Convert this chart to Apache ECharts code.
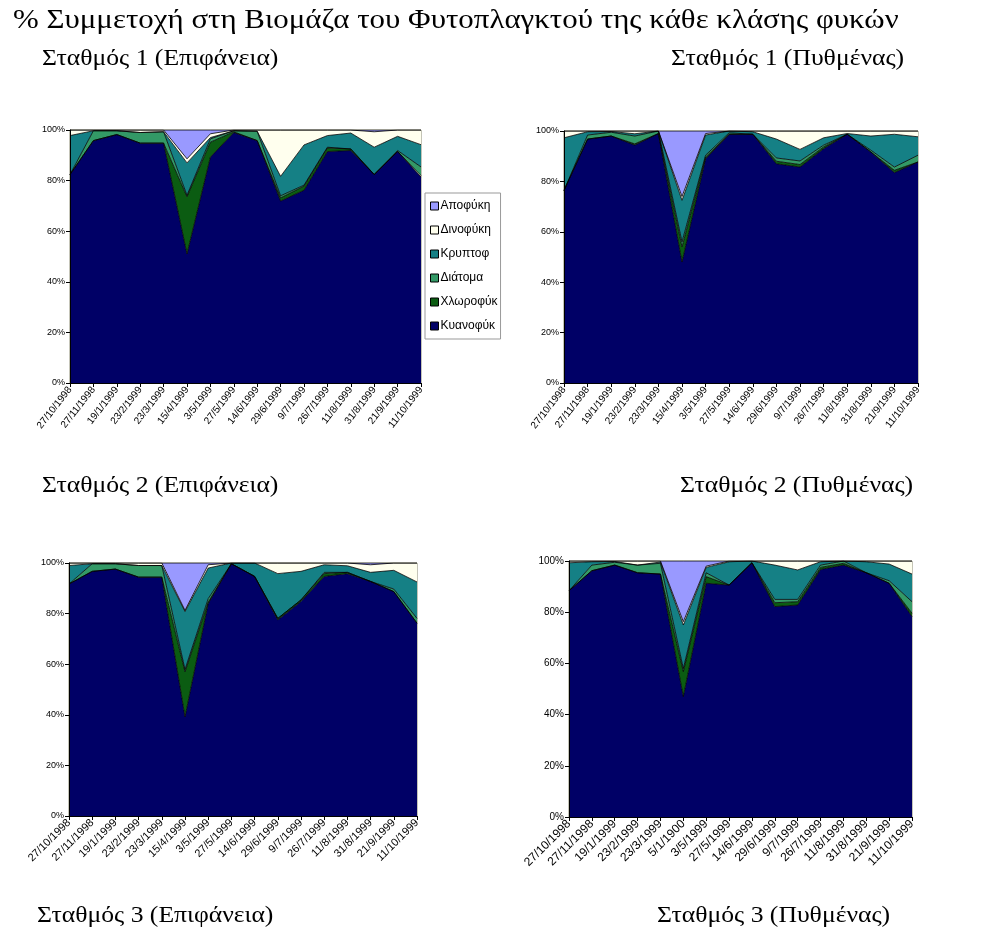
<!DOCTYPE html>
<html>
<head>
<meta charset="utf-8">
<script src="https://cdn.jsdelivr.net/npm/echarts@6/dist/echarts.min.js"></script>
<style>html,body{margin:0;padding:0;background:#fff}#c{width:987px;height:948px}</style>
</head>
<body>
<div id="c"></div>
<script>
// Categories (dates)
var dates = ['27/10/1998','27/11/1998','19/1/1999','23/2/1999','23/3/1999','15/4/1999','3/5/1999','27/5/1999','14/6/1999','29/6/1999','9/7/1999','26/7/1999','11/8/1999','31/8/1999','21/9/1999','11/10/1999'];
var datesBR = ['27/10/1998','27/11/1998','19/1/1999','23/2/1999','23/3/1999','5/1/1900','3/5/1999','27/5/1999','14/6/1999','29/6/1999','9/7/1999','26/7/1999','11/8/1999','31/8/1999','21/9/1999','11/10/1999'];

var seriesNames = ['Κυανοφύκ','Χλωροφύκ','Διάτομα','Κρυπτοφ','Δινοφύκη','Αποφύκη'];
var legendOrder = ['Αποφύκη','Δινοφύκη','Κρυπτοφ','Διάτομα','Χλωροφύκ','Κυανοφύκ'];

// Chart 1 (top-left)
var c1Kyan  = [82.4,95.8,98.2,94.8,94.8,51.0,89.3,99.0,95.8,71.9,76.2,91.5,91.9,82.4,91.5,81.4];
var c1Chlor = [0,0,0,0,0,22.6,5.9,0.3,0,1.3,1.6,1.4,0.6,0,0,0.6];
var c1Diat  = [0,3.9,1.5,4.2,4.5,0.6,1.3,0.4,3.7,0.8,0.4,0.3,0,0,0.4,3.4];
var c1Crypt = [15.4,0,0,0,0,12.8,0.5,0,0,7.7,15.9,4.6,6.3,10.8,5.6,8.8];
var c1Dino  = [2.2,0.3,0.3,1.0,0.7,1.6,1.5,0.3,0.5,18.3,5.9,2.2,1.2,6.1,2.5,5.8];
var c1Apo   = [0,0,0,0,0,11.4,1.5,0,0,0,0,0,0,0.7,0,0];

// Chart 2 (top-right)
var c2Kyan  = [76.4,96.8,98.0,94.4,99.0,48.0,89.0,98.7,98.7,87.0,85.7,93.0,98.7,91.7,83.5,87.7];
var c2Chlor = [0,0,0,0.5,0,6.0,0.7,0,0,1.0,1.0,0.7,0,0,0.9,0];
var c2Diat  = [0,1.6,1.5,3.1,1.0,2.0,0.7,0.6,0,1.3,1.4,0.7,0,0.7,1.3,2.7];
var c2Crypt = [20.9,1.3,0.3,0.9,0,16.5,8.0,0.7,1.0,7.5,4.6,2.9,0.3,5.6,13.0,7.3];
var c2Dino  = [2.7,0.3,0.2,1.1,0,1.5,0.6,0,0.3,3.2,7.3,2.7,1.0,2.0,1.3,2.3];
var c2Apo   = [0,0,0,0,0,26.0,1.0,0,0,0,0,0,0,0,0,0];

// Chart 3 (bottom-left)
var c3Kyan  = [91.7,96.7,97.6,94.4,94.4,39.2,84.0,99.7,94.7,77.5,84.8,94.7,95.8,92.7,88.7,76.2];
var c3Chlor = [0,0,0,0,0,17.8,0.5,0,0,0.6,0.6,1.1,0.5,0,0,0];
var c3Diat  = [0,3.0,2.1,4.6,4.6,0.9,1.4,0,0,0,0,0.5,0,0,1.0,1.9];
var c3Crypt = [7.3,0,0,0,0,22.9,12.1,0.3,5.3,17.7,11.3,3.0,2.6,3.6,7.4,14.4];
var c3Dino  = [1.0,0.3,0.3,1.0,1.0,0.5,1.3,0,0,4.2,3.3,0.7,1.1,3.0,2.9,7.5];
var c3Apo   = [0,0,0,0,0,18.7,0.7,0,0,0,0,0,0,0.7,0,0];

// Chart 4 (bottom-right)
var c4Kyan  = [88.4,96.2,98.4,95.4,94.9,47.0,91.3,90.6,99.3,82.2,82.8,96.7,98.4,95.4,91.3,78.3];
var c4Chlor = [0,0,0,0,0,9.8,2.6,0,0,1.5,1.3,0.8,0.7,0,0,1.3];
var c4Diat  = [0,2.2,1.1,3.0,4.2,1.2,1.5,0,0,1.3,0.9,0.9,0.9,0,1.0,4.5];
var c4Crypt = [10.9,1.3,0.3,0,0.5,17.0,2.1,9.1,0.7,13.4,11.5,1.3,0,4.3,6.5,10.8];
var c4Dino  = [0.7,0.3,0.2,1.6,0.4,1.3,0.5,0.3,0,1.6,3.5,0.3,0,0.3,1.2,5.1];
var c4Apo   = [0,0,0,0,0,23.7,2.0,0,0,0,0,0,0,0,0,0];

var colors = {
  'Κυανοφύκ':'#000066',
  'Χλωροφύκ':'#0b5c12',
  'Διάτομα':'#339966',
  'Κρυπτοφ':'#158085',
  'Δινοφύκη':'#ffffee',
  'Αποφύκη':'#9999ff'
};

var charts = [
  {data:[c1Kyan,c1Chlor,c1Diat,c1Crypt,c1Dino,c1Apo], cats:dates, grid:{left:70,top:130,width:351,height:253}, xfs:10, rot:52, yfs:9},
  {data:[c2Kyan,c2Chlor,c2Diat,c2Crypt,c2Dino,c2Apo], cats:dates, grid:{left:564,top:131,width:354,height:252}, xfs:10, rot:52, yfs:9},
  {data:[c3Kyan,c3Chlor,c3Diat,c3Crypt,c3Dino,c3Apo], cats:dates, grid:{left:69,top:563,width:348,height:253}, xfs:11, rot:45, yfs:9},
  {data:[c4Kyan,c4Chlor,c4Diat,c4Crypt,c4Dino,c4Apo], cats:datesBR, grid:{left:569,top:561,width:343,height:256}, xfs:12, rot:45, yfs:10}
];

var grids=[], xAxes=[], yAxes=[], series=[];
charts.forEach(function(ch, i){
  grids.push(Object.assign({show:true, borderColor:'#8a8a70', borderWidth:1, backgroundColor:'transparent', containLabel:false}, ch.grid));
  xAxes.push({
    type:'category', gridIndex:i, data:ch.cats, boundaryGap:false,
    axisLine:{show:true, lineStyle:{color:'#000', width:1}},
    axisTick:{show:true, length:4, lineStyle:{color:'#000'}, alignWithLabel:true},
    axisLabel:{interval:0, rotate:ch.rot, fontSize:ch.xfs, fontFamily:'Liberation Sans, Arial', color:'#000', margin:5},
    splitLine:{show:false}, z:10
  });
  yAxes.push({
    type:'value', gridIndex:i, min:0, max:100, interval:20,
    axisLine:{show:true, lineStyle:{color:'#000', width:1}},
    axisTick:{show:true, length:4, lineStyle:{color:'#000'}},
    axisLabel:{fontSize:ch.yfs, fontFamily:'Liberation Sans, Arial', color:'#000', margin:5, formatter:'{value}%'},
    splitLine:{show:false}, z:10
  });
  seriesNames.forEach(function(nm, k){
    series.push({
      name:nm, type:'line', xAxisIndex:i, yAxisIndex:i, stack:'st'+i,
      data:ch.data[k], symbol:'none', showSymbol:false, smooth:false,
      lineStyle:{color:'#000', width:0.8},
      itemStyle:{color:colors[nm], borderColor:'#000', borderWidth:1},
      areaStyle:{color:colors[nm], opacity:1},
      emphasis:{disabled:true}, animation:false
    });
  });
});

var serif = 'Liberation Serif, Times New Roman, serif';
function txt(x, y, s, size, sx){
  return {type:'text', x:x, y:y, scaleX:sx, scaleY:1,
    style:{text:s, fontFamily:serif, fontSize:size, fill:'#000', textAlign:'left', textVerticalAlign:'top', verticalAlign:'top'}};
}

var option = {
  animation:false,
  backgroundColor:'#fff',
  grid:grids, xAxis:xAxes, yAxis:yAxes, series:series,
  legend:{
    data:legendOrder, orient:'vertical', left:425, top:193,
    itemWidth:8, itemHeight:8, itemGap:10,
    icon:'rect',
    padding:[6,3,6,5],
    backgroundColor:'#fff', borderColor:'#999', borderWidth:1,
    textStyle:{fontSize:12, fontFamily:'Liberation Sans, Arial', color:'#000', lineHeight:14, padding:[0,0,0,-3]},
    itemStyle:{borderColor:'#000', borderWidth:1},
    selectedMode:false
  },
  graphic:[
    txt(13, 7, '% Συμμετοχή στη Βιομάζα του Φυτοπλαγκτού της κάθε κλάσης φυκών', 28, 1.104),
    txt(42, 47, 'Σταθμός 1 (Επιφάνεια)', 23, 1.115),
    txt(671, 47, 'Σταθμός 1 (Πυθμένας)', 23, 1.115),
    txt(42, 474, 'Σταθμός 2 (Επιφάνεια)', 23, 1.115),
    txt(680, 474, 'Σταθμός 2 (Πυθμένας)', 23, 1.115),
    txt(37, 904, 'Σταθμός 3 (Επιφάνεια)', 23, 1.115),
    txt(657, 904, 'Σταθμός 3 (Πυθμένας)', 23, 1.115)
  ]
};

var chart = echarts.init(document.getElementById('c'), null, {renderer:'canvas'});
chart.setOption(option);
</script>
</body>
</html>
